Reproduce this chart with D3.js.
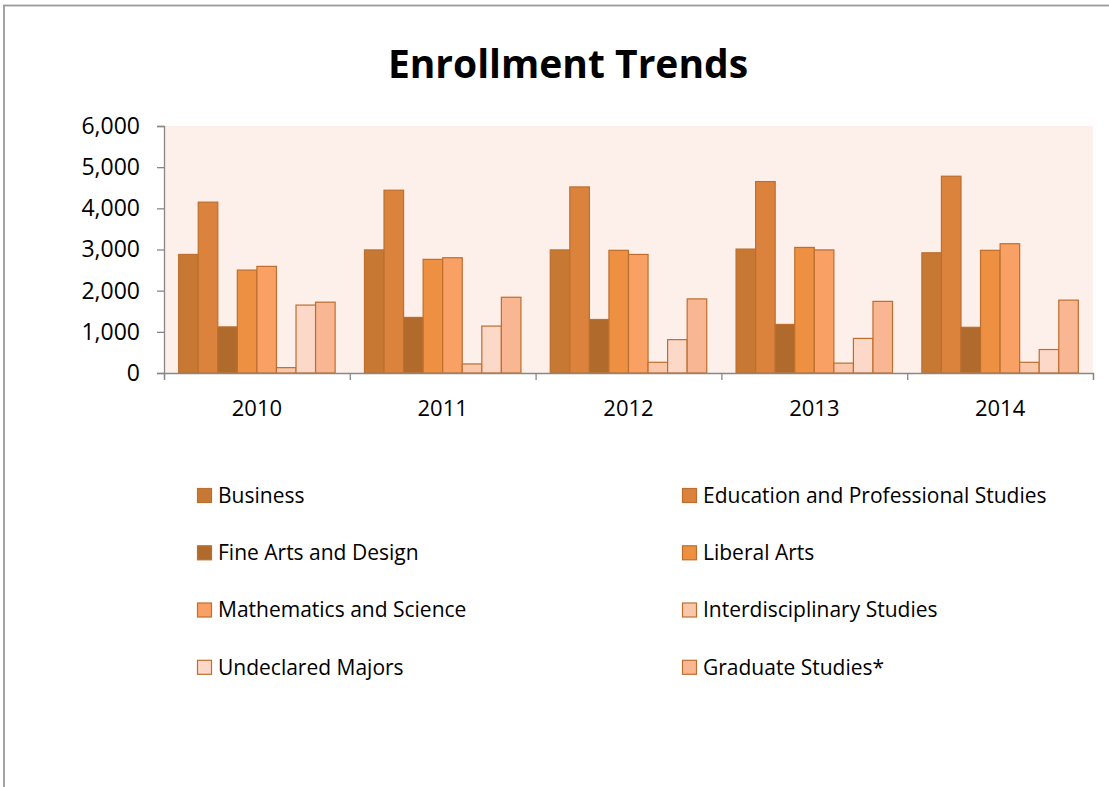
<!DOCTYPE html>
<html>
<head>
<meta charset="utf-8">
<script src="https://cdn.jsdelivr.net/npm/d3@7/dist/d3.min.js"></script>
<style>
  html, body { margin: 0; padding: 0; background: #ffffff; }
  svg { display: block; }
</style>
</head>
<body>
<script>
// ---- Data ----
const years = ["2010", "2011", "2012", "2013", "2014"];
const seriesNames = [
  "Business",
  "Education and Professional Studies",
  "Fine Arts and Design",
  "Liberal Arts",
  "Mathematics and Science",
  "Interdisciplinary Studies",
  "Undeclared Majors",
  "Graduate Studies*"
];
const business       = [2880, 2990, 2990, 3010, 2920];
const education      = [4150, 4440, 4520, 4650, 4780];
const fineArts       = [1120, 1350, 1300, 1180, 1110];
const liberalArts    = [2500, 2760, 2980, 3050, 2980];
const mathScience    = [2590, 2800, 2880, 2990, 3140];
const interdisc      = [130, 220, 260, 240, 260];
const undeclared     = [1650, 1140, 810, 840, 570];
const graduate       = [1720, 1840, 1800, 1740, 1770];
const seriesValues = [business, education, fineArts, liberalArts, mathScience, interdisc, undeclared, graduate];
const yTicks = [0, 1000, 2000, 3000, 4000, 5000, 6000];
const colors = ["#C77832", "#DB823D", "#AF6A2C", "#EE9042", "#F9A064", "#FAC7AB", "#FCD8C8", "#F9B692"];

// ---- Layout ----
const W = 1109, H = 787;
const plot = { left: 164, right: 1093, top: 126, bottom: 373 };
const font = "'Open Sans', 'Noto Sans', sans-serif";

const svg = d3.select("body").append("svg").attr("width", W).attr("height", H);

// outer chart frame (right/bottom off-canvas)
svg.append("rect").attr("x", 4).attr("y", 5.5).attr("width", 1300).attr("height", 1000)
  .attr("fill", "#fff").attr("stroke", "#9a9a9a").attr("stroke-width", 1.8);

// title
svg.append("text").attr("x", 568).attr("y", 78).attr("text-anchor", "middle")
  .attr("font-family", font).attr("font-weight", "bold").attr("font-size", 39)
  .attr("fill", "#000").text("Enrollment Trends");

// plot background
svg.append("rect").attr("x", plot.left).attr("y", plot.top)
  .attr("width", plot.right - plot.left).attr("height", plot.bottom - plot.top)
  .attr("fill", "#FDEFEA");

const y = d3.scaleLinear().domain([0, 6000]).range([plot.bottom, plot.top]);
const x0 = d3.scaleBand().domain(years).range([plot.left, plot.right]).paddingInner(0).paddingOuter(0);
const bw = x0.bandwidth() / (seriesNames.length + 1.5);
const x1 = d3.scaleBand().domain(d3.range(seriesNames.length))
  .range([0.75 * bw, x0.bandwidth() - 0.75 * bw]).padding(0);

// bars
const groups = svg.append("g").selectAll("g").data(years).join("g")
  .attr("transform", d => `translate(${x0(d)},0)`);
groups.selectAll("rect")
  .data((yr, i) => seriesValues.map((vals, s) => ({ s, v: vals[i] })))
  .join("rect")
  .attr("x", d => x1(d.s))
  .attr("width", x1.bandwidth())
  .attr("y", d => y(d.v))
  .attr("height", d => y(0) - y(d.v))
  .attr("fill", d => colors[d.s])
  .attr("stroke", "#BE6E2E")
  .attr("stroke-width", 1.2);

// y axis
const yAxis = svg.append("g").attr("transform", `translate(${plot.left},0)`)
  .call(d3.axisLeft(y).tickValues(yTicks).tickSize(7).tickPadding(17).tickFormat(d3.format(",")));
yAxis.select(".domain").attr("stroke", "#888").attr("stroke-width", 1.3);
yAxis.selectAll(".tick line").attr("stroke", "#888").attr("stroke-width", 1.3);
yAxis.selectAll("text").attr("font-family", font).attr("font-size", 23).attr("fill", "#000");

// x axis: boundary ticks
const xb = d3.scaleLinear().domain([0, years.length]).range([plot.left, plot.right]);
const xTickAxis = svg.append("g").attr("transform", `translate(0,${plot.bottom})`)
  .call(d3.axisBottom(xb).tickValues(d3.range(years.length + 1)).tickSize(7).tickFormat(""));
xTickAxis.select(".domain").attr("stroke", "#888").attr("stroke-width", 1.3);
xTickAxis.selectAll(".tick line").attr("stroke", "#888").attr("stroke-width", 1.3);

// x axis labels
const xLab = svg.append("g").attr("transform", `translate(0,${plot.bottom})`)
  .call(d3.axisBottom(x0).tickSize(0).tickPadding(27));
xLab.select(".domain").remove();
xLab.selectAll("text").attr("font-family", font).attr("font-size", 22).attr("fill", "#000");

// legend
const legCols = [197, 682];
const legRows = [495.5, 552.8, 610, 667.3];
const leg = svg.append("g").selectAll("g").data(seriesNames).join("g")
  .attr("transform", (d, i) => `translate(${legCols[i % 2]},${legRows[Math.floor(i / 2)]})`);
leg.append("rect").attr("x", 0.5).attr("y", -7).attr("width", 14).attr("height", 14)
  .attr("fill", (d, i) => colors[i]).attr("stroke", "#BE6E2E").attr("stroke-width", 1.2);
leg.append("text").attr("x", 21).attr("y", 0).attr("dy", "0.35em")
  .attr("font-family", font).attr("font-size", 21).attr("fill", "#000").text(d => d);
</script>
</body>
</html>
